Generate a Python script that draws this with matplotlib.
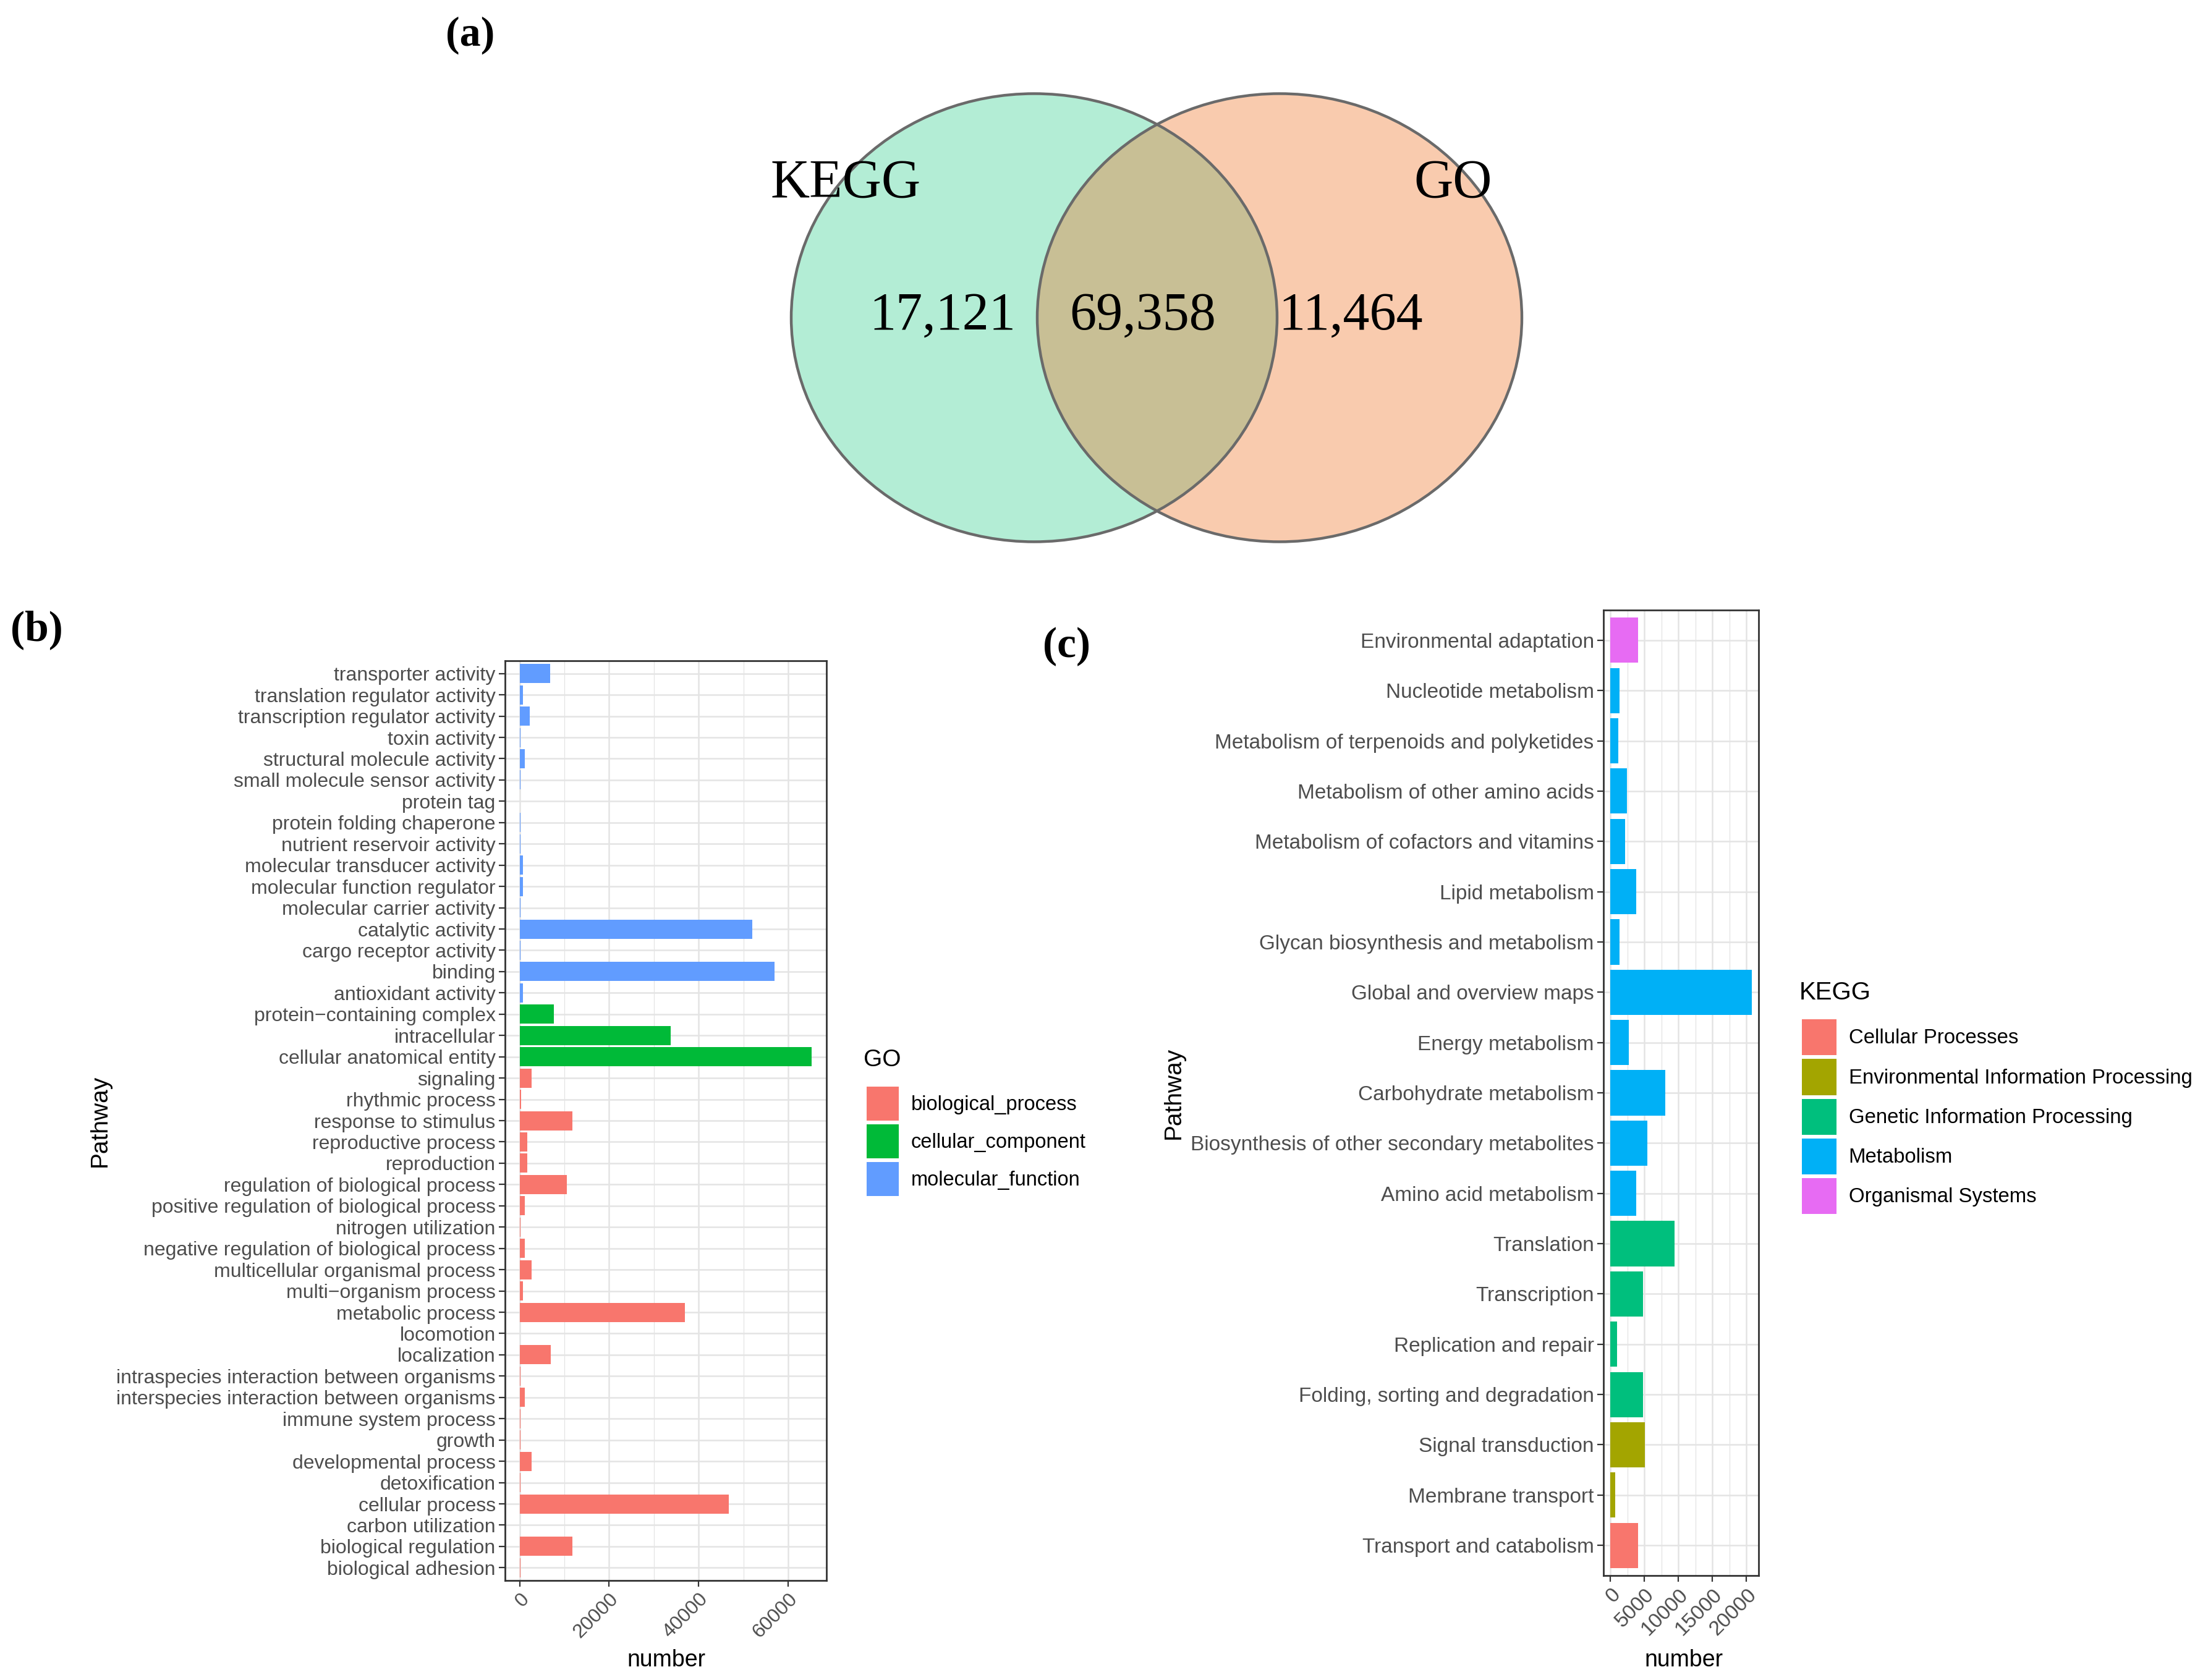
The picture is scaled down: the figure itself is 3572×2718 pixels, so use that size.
import matplotlib
matplotlib.use('Agg')
import matplotlib.pyplot as plt
from matplotlib.patches import Ellipse, Patch
import numpy as np

W, H = 3573, 2718
DPI = 100
SANS = ['Liberation Sans', 'DejaVu Sans']
SERIF = ['Liberation Serif', 'DejaVu Serif']
plt.rcParams['font.family'] = SANS

# ---------------- data ----------------
venn_sets = ['KEGG', 'GO']
venn_counts = ['17,121', '69,358', '11,464']   # KEGG only, both, GO only

# GO (bottom -> top within each class, as ggplot orders them)
bp_terms = ['biological adhesion', 'biological regulation', 'carbon utilization', 'cellular process',
            'detoxification', 'developmental process', 'growth', 'immune system process',
            'interspecies interaction between organisms', 'intraspecies interaction between organisms',
            'localization', 'locomotion', 'metabolic process', 'multi\u2212organism process',
            'multicellular organismal process', 'negative regulation of biological process',
            'nitrogen utilization', 'positive regulation of biological process',
            'regulation of biological process', 'reproduction', 'reproductive process',
            'response to stimulus', 'rhythmic process', 'signaling']
bp_values = [150, 11800, 100, 46700, 250, 2700, 150, 250, 1200, 200, 7000, 100, 37000, 700,
             2700, 1200, 200, 1200, 10500, 1700, 1700, 11800, 300, 2700]
cc_terms = ['cellular anatomical entity', 'intracellular', 'protein\u2212containing complex']
cc_values = [65300, 33800, 7600]
mf_terms = ['antioxidant activity', 'binding', 'cargo receptor activity', 'catalytic activity',
            'molecular carrier activity', 'molecular function regulator', 'molecular transducer activity',
            'nutrient reservoir activity', 'protein folding chaperone', 'protein tag',
            'small molecule sensor activity', 'structural molecule activity', 'toxin activity',
            'transcription regulator activity', 'translation regulator activity', 'transporter activity']
mf_values = [700, 57000, 250, 52000, 200, 700, 700, 200, 150, 100, 200, 1200, 200, 2200, 700, 6800]
go_classes = ['biological_process', 'cellular_component', 'molecular_function']
go_colors = ['#F8766D', '#00BA38', '#619CFF']

# KEGG (bottom -> top)
cp_paths = ['Transport and catabolism']
cp_values = [4100]
eip_paths = ['Membrane transport', 'Signal transduction']
eip_values = [700, 5100]
gip_paths = ['Folding, sorting and degradation', 'Replication and repair', 'Transcription', 'Translation']
gip_values = [4800, 1000, 4800, 9400]
met_paths = ['Amino acid metabolism', 'Biosynthesis of other secondary metabolites',
             'Carbohydrate metabolism', 'Energy metabolism', 'Global and overview maps',
             'Glycan biosynthesis and metabolism', 'Lipid metabolism',
             'Metabolism of cofactors and vitamins', 'Metabolism of other amino acids',
             'Metabolism of terpenoids and polyketides', 'Nucleotide metabolism']
met_values = [3800, 5400, 8100, 2700, 20750, 1300, 3800, 2100, 2400, 1100, 1300]
os_paths = ['Environmental adaptation']
os_values = [4100]
kegg_classes = ['Cellular Processes', 'Environmental Information Processing',
                'Genetic Information Processing', 'Metabolism', 'Organismal Systems']
kegg_colors = ['#F8766D', '#A3A500', '#00BF7D', '#00B0F6', '#E76BF3']

go_ticks = [0, 20000, 40000, 60000]
go_minor = [10000, 30000, 50000]
kegg_ticks = [0, 5000, 10000, 15000, 20000]
kegg_minor = [2500, 7500, 12500, 17500]

TXT = '#4D4D4D'
GRID = '#E4E4E4'

fig = plt.figure(figsize=(W / DPI, H / DPI), dpi=DPI)

def box(l, t, r, b):
    return [l / W, 1 - b / H, (r - l) / W, (b - t) / H]

# ---------------- (a) Venn ----------------
axv = fig.add_axes([0, 0, 1, 1], zorder=0)
axv.set_xlim(0, W)
axv.set_ylim(H, 0)
axv.axis('off')
left_e = Ellipse((1673, 514), 786, 725, facecolor='#B3EDD5', edgecolor='none')
right_e = Ellipse((2070, 514), 784, 725, facecolor='#F9CBAE', edgecolor='none')
axv.add_patch(left_e)
axv.add_patch(right_e)
ov = Ellipse((2070, 514), 784, 725, facecolor='#C8BF95', edgecolor='none')
axv.add_patch(ov)
ov.set_clip_path(left_e)
for c in [(1673, 514, 786), (2070, 514, 784)]:
    axv.add_patch(Ellipse((c[0], c[1]), c[2], 725, fill=False, edgecolor='#6A6A6A', lw=3.2))
axv.text(1368, 319, venn_sets[0], fontsize=63, family=SERIF, ha='center', va='baseline')
axv.text(2351, 319, venn_sets[1], fontsize=63, family=SERIF, ha='center', va='baseline')
for xc, s in zip([1525, 1849, 2185], venn_counts):
    axv.text(xc, 533, s, fontsize=62, family=SERIF, ha='center', va='baseline')
axv.text(761, 57, '(a)', fontsize=49, family=SERIF, weight='bold', ha='center', va='center')
axv.text(59, 1019, '(b)', fontsize=50, family=SERIF, weight='bold', ha='center', va='center')
axv.text(1726, 1046, '(c)', fontsize=50, family=SERIF, weight='bold', ha='center', va='center')


def style_axes(ax, ticks, minor, lsize):
    ax.set_xticks(ticks)
    ax.set_xticks(minor, minor=True)
    ax.set_axisbelow(True)
    ax.grid(True, which='major', color=GRID, lw=1.8)
    ax.grid(True, which='minor', axis='x', color=GRID, lw=0.9)
    for sp in ax.spines.values():
        sp.set_color('#333333')
        sp.set_linewidth(2.0)
    ax.tick_params(axis='both', which='major', length=7, width=1.6, color='#333333',
                   labelcolor=TXT, labelsize=lsize, pad=4)
    ax.tick_params(axis='both', which='minor', length=0)


# ---------------- (b) GO ----------------
axb = fig.add_axes(box(817, 1069, 1337, 2557), zorder=2)
go_terms = bp_terms + cc_terms + mf_terms
go_values = bp_values + cc_values + mf_values
go_cols = ([go_colors[0]] * len(bp_terms) + [go_colors[1]] * len(cc_terms)
           + [go_colors[2]] * len(mf_terms))
yb = np.arange(len(go_terms))
axb.barh(yb, go_values, height=0.9, color=go_cols)
axb.set_yticks(yb)
axb.set_yticklabels(go_terms)
mb = max(go_values)
axb.set_xlim(-0.05 * mb, 1.05 * mb)
axb.set_ylim(-0.6, len(go_terms) - 0.4)
style_axes(axb, go_ticks, go_minor, 23)
axb.set_xticklabels([str(t) for t in go_ticks], rotation=45, ha='right', va='top',
                    rotation_mode='anchor')
axb.set_xlabel('number', fontsize=27)
axb.set_ylabel('Pathway', fontsize=28)
axb.xaxis.set_label_coords(0.502, -0.0746)
axb.yaxis.set_label_coords(-1.225, 0.5)
hb = [Patch(facecolor=c, edgecolor='none') for c in go_colors]
fig.text(1397 / W, 1 - 1715 / H, 'GO', fontsize=28, ha='left', va='center')
fig.legend(hb, go_classes, loc='upper left', bbox_to_anchor=(1402 / W, 1 - 1758 / H),
           frameon=False, fontsize=23.5,
           handlelength=1.6, handleheight=2.2, labelspacing=0.2, handletextpad=0.6,
           borderpad=0, borderaxespad=0)

# ---------------- (c) KEGG ----------------
axc = fig.add_axes(box(2594, 987, 2845, 2549), zorder=2)
kegg_paths = cp_paths + eip_paths + gip_paths + met_paths + os_paths
kegg_values = cp_values + eip_values + gip_values + met_values + os_values
kegg_cols = ([kegg_colors[0]] * len(cp_paths) + [kegg_colors[1]] * len(eip_paths)
             + [kegg_colors[2]] * len(gip_paths) + [kegg_colors[3]] * len(met_paths)
             + [kegg_colors[4]] * len(os_paths))
yc = np.arange(len(kegg_paths))
axc.barh(yc, kegg_values, height=0.9, color=kegg_cols)
axc.set_yticks(yc)
axc.set_yticklabels(kegg_paths)
mc = max(kegg_values)
axc.set_xlim(-0.05 * mc, 1.05 * mc)
axc.set_ylim(-0.6, len(kegg_paths) - 0.4)
style_axes(axc, kegg_ticks, kegg_minor, 24)
axc.set_xticklabels([str(t) for t in kegg_ticks], rotation=45, ha='right', va='top',
                    rotation_mode='anchor')
axc.set_xlabel('number', fontsize=27)
axc.set_ylabel('Pathway', fontsize=28)
axc.xaxis.set_label_coords(0.518, -0.0762)
axc.yaxis.set_label_coords(-2.697, 0.5)
hc = [Patch(facecolor=c, edgecolor='none') for c in kegg_colors]
fig.text(2911 / W, 1 - 1606 / H, 'KEGG', fontsize=29, ha='left', va='center')
fig.legend(hc, kegg_classes, loc='upper left', bbox_to_anchor=(2915 / W, 1 - 1649 / H),
           frameon=False, fontsize=23.7,
           handlelength=1.7, handleheight=2.35, labelspacing=0.18, handletextpad=0.6,
           borderpad=0, borderaxespad=0)

fig.savefig('out.png', dpi=DPI)
